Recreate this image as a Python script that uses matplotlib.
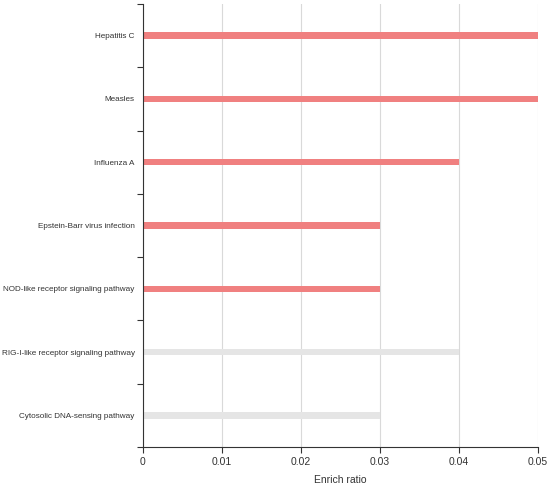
import numpy as np
import matplotlib
matplotlib.use('Agg')
import matplotlib.pyplot as plt

plt.rcParams['font.family'] = ['Liberation Sans', 'DejaVu Sans']

# Pathways, top to bottom
pathways = ["Hepatitis C", "Measles", "Influenza A",
            "Epstein-Barr virus infection",
            "NOD-like receptor signaling pathway",
            "RIG-I-like receptor signaling pathway",
            "Cytosolic DNA-sensing pathway"]
enrich = [0.05, 0.05, 0.04, 0.03, 0.03, 0.04, 0.03]
significant = [True, True, True, True, True, False, False]
xticks = [0, 0.01, 0.02, 0.03, 0.04, 0.05]
xticklabels = ["0", "0.01", "0.02", "0.03", "0.04", "0.05"]

RED = '#f08080'
GREY = '#e5e5e5'
AXIS = '#333333'

fig = plt.figure(figsize=(5.5, 4.86), dpi=100)
ax = fig.add_axes([0.26, 0.0802, 0.718, 0.9116])

ypos = np.arange(len(pathways))
colors = [RED if s else GREY for s in significant]
ax.barh(ypos, enrich, height=0.1, color=colors, zorder=2)

ax.set_xlim(0, 0.05)
ax.set_ylim(len(pathways) - 0.5, -0.5)
ax.set_xticks(xticks)
ax.set_xticklabels(xticklabels, fontsize=7.5, color=AXIS)
ax.set_yticks(ypos)
ax.set_yticklabels(pathways, fontsize=5.85, color=AXIS)
ax.set_yticks(np.arange(len(pathways) + 1) - 0.5, minor=True)
ax.tick_params(axis='y', which='major', length=0, pad=6)
ax.tick_params(axis='y', which='minor', length=4, width=0.8, color=AXIS)
ax.tick_params(axis='x', length=4, width=0.8, color=AXIS, pad=3)

ax.grid(True, axis='x', color='#d9d9d9', linewidth=0.8, zorder=0)
ax.set_axisbelow(True)
for side in ('top', 'right'):
    ax.spines[side].set_visible(False)
for side in ('left', 'bottom'):
    ax.spines[side].set_color(AXIS)
    ax.spines[side].set_linewidth(0.8)

ax.set_xlabel('Enrich ratio', fontsize=7.5, color=AXIS, labelpad=6)

fig.savefig('out.png', dpi=100)
